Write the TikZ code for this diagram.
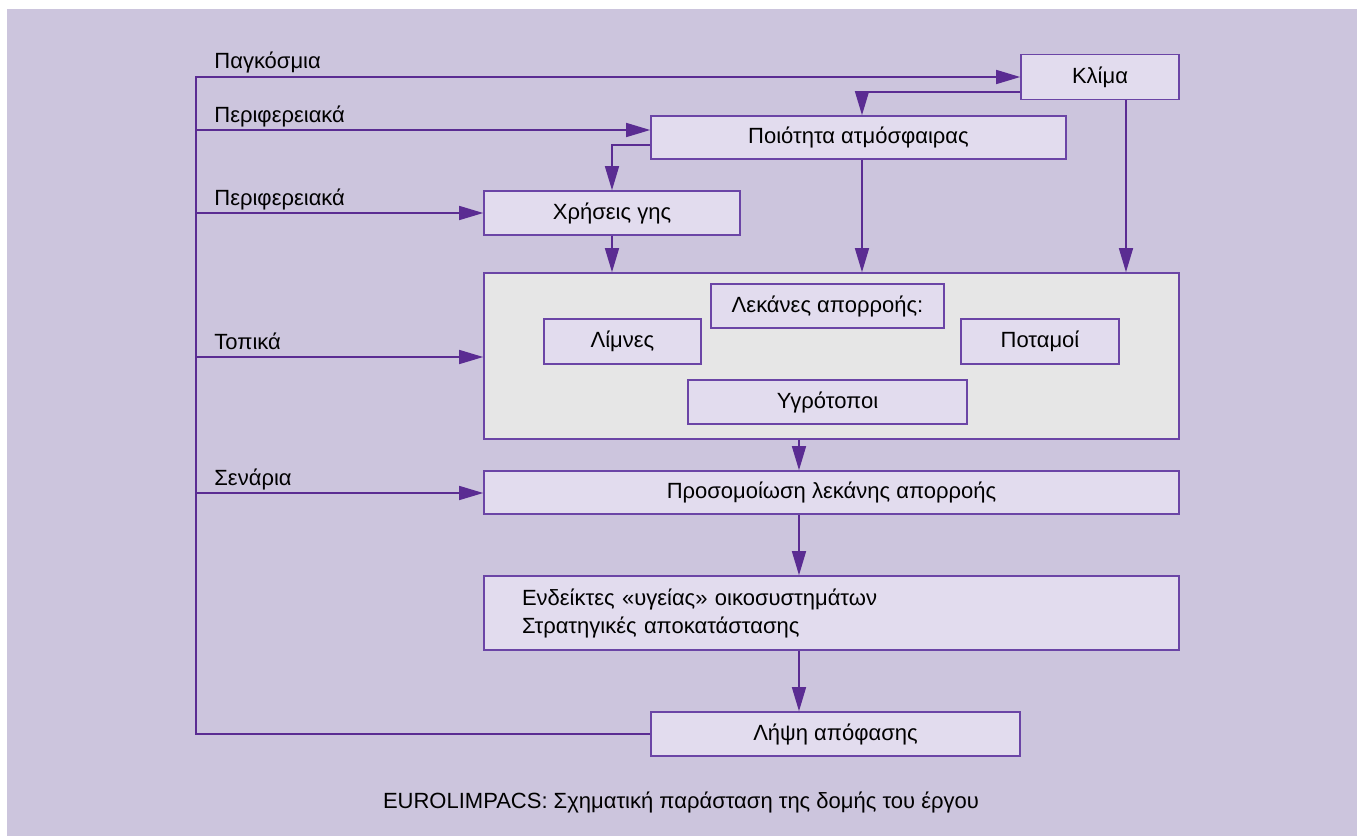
\documentclass[tikz,border=0pt]{standalone}
\usepackage{fontspec}
\setmainfont{Liberation Sans}
\usetikzlibrary{arrows.meta}
\definecolor{bgcol}{HTML}{CCC5DD}
\definecolor{boxfill}{HTML}{E2DCEE}
\definecolor{basinfill}{HTML}{E6E6E6}
\definecolor{edgecol}{HTML}{6B45A6}
\definecolor{arrcol}{HTML}{5A2C92}
\begin{document}
\begin{tikzpicture}[x=0.5pt,y=-0.5pt,
  txt/.style={font=\fontsize{11}{14}\selectfont, text=black},
  box/.style={txt, draw=edgecol, fill=boxfill, line width=0.8pt, inner sep=0pt},
  basinbox/.style={draw=edgecol, fill=basinfill, line width=0.8pt, inner sep=0pt},
  lbl/.style={txt, inner sep=0pt},
  conn/.style={draw=arrcol, line width=0.75pt},
  arr/.style={conn, -{Triangle[length=12pt,width=7pt]}, arrcol}
]
\useasboundingbox (0,0) rectangle (1357,836);
\fill[white] (0,0) rectangle (1357,836);
\fill[bgcol] (7,9) rectangle (1357,836);

% boxes
\node[box, minimum width=79pt, minimum height=22.5pt] (klima) at (1100,77) {Κλίμα};
\node[box, minimum width=207.5pt, minimum height=21.5pt] (poiot) at (858.5,137.5) {Ποιότητα ατμόσφαιρας};
\node[box, minimum width=128pt, minimum height=22pt] (xrisi) at (612,213) {Χρήσεις γης};
\node[basinbox, minimum width=347.5pt, minimum height=83pt] (basin) at (831.5,356) {};
\node[box, minimum width=116.5pt, minimum height=22pt] (lekanes) at (827.5,306) {Λεκάνες απορροής:};
\node[box, minimum width=78.5pt, minimum height=22.5pt] (limnes) at (622.5,341.5) {Λίμνες};
\node[box, minimum width=79pt, minimum height=22.5pt] (potamoi) at (1040,341.5) {Ποταμοί};
\node[box, minimum width=139.5pt, minimum height=22pt] (ygro) at (827.5,402) {Υγρότοποι};
\node[box, minimum width=347.5pt, minimum height=21.5pt] (prosom) at (831.5,492.5) {Προσομοίωση λεκάνης απορροής};
\node[box, minimum width=347.5pt, minimum height=37pt, text width=309.5pt, align=left, inner xsep=19pt] (endeik) at (831.5,613) {Ενδείκτες «υγείας» οικοσυστημάτων\\Στρατηγικές αποκατάστασης};
\node[box, minimum width=184.5pt, minimum height=22pt] (lipsi) at (835.5,734) {Λήψη απόφασης};

% labels
\node[lbl, anchor=base west] (lglob) at (214,68) {Παγκόσμια};
\node[lbl, anchor=base west] (lper1) at (214,122) {Περιφερειακά};
\node[lbl, anchor=base west] (lper2) at (214,205) {Περιφερειακά};
\node[lbl, anchor=base west] (ltop) at (214,349) {Τοπικά};
\node[lbl, anchor=base west] (lsen) at (214,485) {Σενάρια};
\node[lbl, anchor=base] (caption) at (681,808) {EUROLIMPACS: Σχηματική παράσταση της δομής του έργου};

% feedback loop and inputs
\coordinate (corner) at (196,734);
\coordinate (top) at (196,77);
\coordinate (b1) at (196,130);
\coordinate (b2) at (196,213);
\coordinate (b3) at (196,357);
\coordinate (b4) at (196,493);
\draw[arr] (lipsi.west) -- (corner) -- (top) -- (klima.west);
\draw[arr] (b1) -- (b1 -| poiot.west);
\draw[arr] (b2) -- (xrisi.west);
\draw[arr] (b3) -- (b3 -| basin.west);
\draw[arr] (b4) -- (b4 -| prosom.west);

% internal flows
\draw[arr] (klima.west |- 0,92) -| (poiot.north -| 862,0);
\draw[arr] (poiot.west |- 0,145) -| (xrisi.north);
\draw[arr] (poiot.south -| 862,0) -- (basin.north -| 862,0);
\draw[arr] (klima.south -| 1126,0) -- (basin.north -| 1126,0);
\draw[arr] (xrisi.south) -- (xrisi.south |- basin.north);
\draw[arr] (basin.south -| 799,0) -- (prosom.north -| 799,0);
\draw[arr] (prosom.south -| 799,0) -- (endeik.north -| 799,0);
\draw[arr] (endeik.south -| 799,0) -- (lipsi.north -| 799,0);
\end{tikzpicture}
\end{document}
